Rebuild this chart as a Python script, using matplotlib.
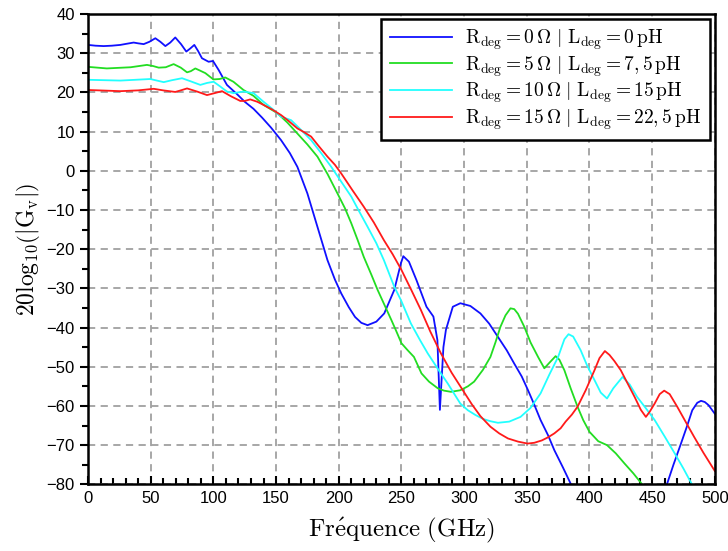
import numpy as np
import matplotlib
matplotlib.use("Agg")
import matplotlib.pyplot as plt
from matplotlib.ticker import MultipleLocator

plt.rcParams['mathtext.fontset'] = 'cm'
plt.rcParams['font.family'] = ['Liberation Sans', 'DejaVu Sans']

# ---- data (frequency in GHz, gain in dB) ----
f_blue = [0, 6, 12.5, 19, 25.8, 31, 36.4, 40, 44.4, 49, 53.7, 57.7, 61.7, 65.6, 69.6, 74.2, 78.4, 81.6, 84.8, 87.7,
          90.9, 96.2, 99.7, 104.2, 110.8, 119, 125, 132, 139, 146, 154, 161, 167, 175, 183, 191, 197, 202, 208,
          213, 218, 223, 230, 236.3, 244.3, 249.6, 251.5, 256, 262, 270, 275.5, 278.7, 280.7, 283.5, 285.5, 291,
          297, 305, 313, 320, 327, 334, 340, 346, 351, 356, 361, 367, 372, 379, 386, 388, 420, 460, 462, 467, 473,
          478, 482, 486, 489, 492, 495, 500]
v_blue = [32.1, 31.9, 31.8, 31.9, 32.1, 32.4, 32.7, 32.5, 32.3, 32.9, 33.8, 32.9, 31.8, 32.7, 34.0, 32.3, 30.4, 31.2,
          32.1, 30.6, 28.7, 27.8, 28.0, 25.7, 21.9, 19.5, 17.6, 15.8, 13.5, 11.0, 7.8, 4.5, 1.0, -5.8, -14.3, -22.8,
          -27.8, -31.3, -34.8, -37.3, -38.8, -39.4, -38.5, -36.4, -30.4, -23.6, -21.8, -23.2, -27.9, -34.7, -37.2,
          -43.2, -61.0, -45.0, -40.6, -34.7, -33.8, -34.5, -36.4, -39.0, -42.4, -45.8, -49.2, -52.5, -56.0, -59.7,
          -63.6, -67.5, -71.3, -75.8, -80.5, -82.0, np.nan, -83.0, -79.8, -75.0, -69.6, -65.0, -61.1, -59.2, -58.7,
          -59.0, -59.8, -62.0]

f_green = [0, 15, 34, 47, 52, 56.4, 62, 68.3, 74, 79, 82, 85.6, 89, 93.6, 100, 105, 109.5, 116, 124, 132, 140, 151,
           159, 167, 175, 183, 191, 199, 205, 210, 215, 220, 226, 231, 237, 242, 246, 250, 255, 260, 266, 272, 279,
           284, 289.5, 297, 303, 308, 315, 321, 325, 329, 333, 337, 340, 343, 348, 353, 359, 364, 368, 373, 376,
           380, 385, 390.5, 395, 400, 407, 414, 421, 428, 435, 441.5, 445]
v_green = [26.5, 26.1, 26.4, 27.0, 26.7, 26.3, 26.4, 27.2, 26.3, 25.1, 25.4, 26.1, 25.6, 24.9, 23.3, 23.4, 23.8,
           22.7, 20.6, 19.1, 16.8, 14.7, 12.3, 9.5, 6.7, 3.6, -0.8, -5.8, -9.6, -13.4, -17.6, -22.0, -26.5, -30.4,
           -34.6, -38.1, -41.0, -44.0, -45.8, -47.5, -51.7, -53.8, -55.5, -56.1, -56.4, -56.0, -55.0, -53.8, -50.8,
           -47.5, -43.8, -39.8, -36.9, -35.1, -35.3, -36.5, -39.8, -43.8, -47.5, -50.4, -49.0, -47.3, -48.2, -50.9,
           -55.5, -60.2, -63.6, -66.6, -69.0, -70.0, -72.1, -74.7, -77.2, -79.8, -82.0]

f_cyan = [0, 25.8, 49.7, 55, 60.4, 67, 75, 82, 89.6, 95, 100.2, 105, 110.8, 116, 120, 124, 132, 140, 147, 154, 162,
          170, 178, 186, 194, 202, 210, 216, 223, 230, 236, 244.3, 249.6, 257.6, 265, 271, 280, 287, 297, 303, 309,
          315, 321, 327, 336, 345, 353, 361, 368, 375, 380, 383.3, 387, 393, 398, 404, 409, 414, 419, 426.4, 432,
          438, 445, 452, 460, 468, 475, 481.4, 484]
v_cyan = [23.2, 23.0, 23.4, 23.0, 22.6, 23.1, 23.6, 22.8, 21.9, 22.4, 22.7, 21.6, 20.2, 19.8, 20.0, 20.2, 19.8,
          17.6, 15.8, 13.8, 12.9, 10.4, 7.8, 4.5, 1.0, -2.8, -6.6, -10.2, -14.3, -18.5, -22.8, -29.6, -33.0, -39.0,
          -43.3, -46.6, -51.0, -54.3, -59.4, -61.1, -62.3, -63.3, -63.9, -64.3, -64.0, -62.8, -60.5, -56.8, -52.0,
          -47.5, -43.0, -41.7, -42.3, -45.8, -49.6, -53.4, -56.6, -58.1, -55.5, -52.6, -54.5, -57.7, -60.6, -63.6,
          -67.8, -72.1, -76.0, -79.8, -81.5]

f_red = [0, 25.8, 40, 52.4, 60, 69.6, 74, 79, 87, 94.9, 101, 106.9, 114, 121.5, 125, 129.4, 135, 140, 147, 154,
         160, 167, 172, 178, 184, 191, 197, 202, 211, 220, 228, 236, 243, 250, 258, 265.5, 273, 281.5, 290, 298,
         306, 313, 321, 328, 335, 343, 350.6, 356, 362, 367, 372, 377, 381, 386, 390.5, 397, 404, 408, 412.3, 416,
         420, 425, 430, 436, 441, 445, 448, 452, 456, 459.6, 464, 470, 477, 483.5, 491, 500]
v_red = [20.6, 20.3, 20.5, 20.9, 20.5, 20.1, 20.5, 21.0, 20.2, 19.3, 19.8, 20.3, 19.0, 17.8, 17.8, 18.2, 17.6, 16.8,
         15.6, 14.2, 12.7, 10.8, 9.9, 8.7, 6.3, 3.6, 1.5, -0.7, -5.0, -9.2, -13.2, -17.7, -21.3, -25.3, -30.5,
         -35.5, -41.0, -46.6, -51.5, -55.5, -59.5, -62.6, -65.3, -67.0, -68.3, -69.1, -69.6, -69.4, -68.8, -68.0,
         -67.0, -65.7, -64.0, -62.2, -60.2, -56.0, -50.9, -47.8, -46.0, -47.0, -48.6, -50.9, -54.0, -57.7, -61.0,
         -62.8, -61.5, -59.4, -57.0, -56.1, -57.0, -60.2, -64.2, -67.9, -72.0, -76.6]

labels = [
    r'$\mathrm{R_{deg}} = 0\,\Omega\ |\ \mathrm{L_{deg}} = 0\,\mathrm{pH}$',
    r'$\mathrm{R_{deg}} = 5\,\Omega\ |\ \mathrm{L_{deg}} = 7,5\,\mathrm{pH}$',
    r'$\mathrm{R_{deg}} = 10\,\Omega\ |\ \mathrm{L_{deg}} = 15\,\mathrm{pH}$',
    r'$\mathrm{R_{deg}} = 15\,\Omega\ |\ \mathrm{L_{deg}} = 22,5\,\mathrm{pH}$',
]
colors = ['#1010ff', '#22dd22', '#22ffff', '#ff1a1a']

fig = plt.figure(figsize=(7.28, 5.51), dpi=100)
ax = fig.add_axes([0.1209, 0.121, 0.861, 0.8537])

for fx, vy, lab, c in zip([f_blue, f_green, f_cyan, f_red], [v_blue, v_green, v_cyan, v_red], labels, colors):
    ax.plot(fx, vy, color=c, lw=1.3, label=lab, solid_joinstyle='round')

ax.set_xlim(0, 500)
ax.set_ylim(-80, 40)
ax.xaxis.set_major_locator(MultipleLocator(50))
ax.xaxis.set_minor_locator(MultipleLocator(10))
ax.yaxis.set_major_locator(MultipleLocator(10))
ax.yaxis.set_minor_locator(MultipleLocator(5))
ax.tick_params(axis='x', which='both', direction='in', labelsize=12, width=1.5)
ax.tick_params(axis='x', which='major', length=6, pad=5)
ax.tick_params(axis='x', which='minor', length=4)
ax.tick_params(axis='y', which='both', direction='out', labelsize=12, width=1.5)
ax.tick_params(axis='y', which='major', length=6)
ax.tick_params(axis='y', which='minor', length=4)
for s in ax.spines.values():
    s.set_linewidth(1.8)

ax.grid(True, which='major', color='#a0a0a0', linestyle=(0, (4, 3)), lw=1.3)
ax.set_axisbelow(True)

ax.set_xlabel(r"$\mathrm{Fr\acute{e}quence\ (GHz)}$", fontsize=18, labelpad=7)
ax.set_ylabel(r"$20\mathrm{log}_{10}\left(|\mathrm{G_v}|\right)$", fontsize=17, labelpad=3)

leg = ax.legend(loc='upper right', fontsize=14, handlelength=3.2, frameon=True, fancybox=False,
                borderaxespad=0.25, labelspacing=0.1, handletextpad=0.65, borderpad=0.45)
leg.get_frame().set_edgecolor('black')
leg.get_frame().set_linewidth(1.8)
leg.get_frame().set_alpha(1)

fig.savefig('out.png', dpi=100)
